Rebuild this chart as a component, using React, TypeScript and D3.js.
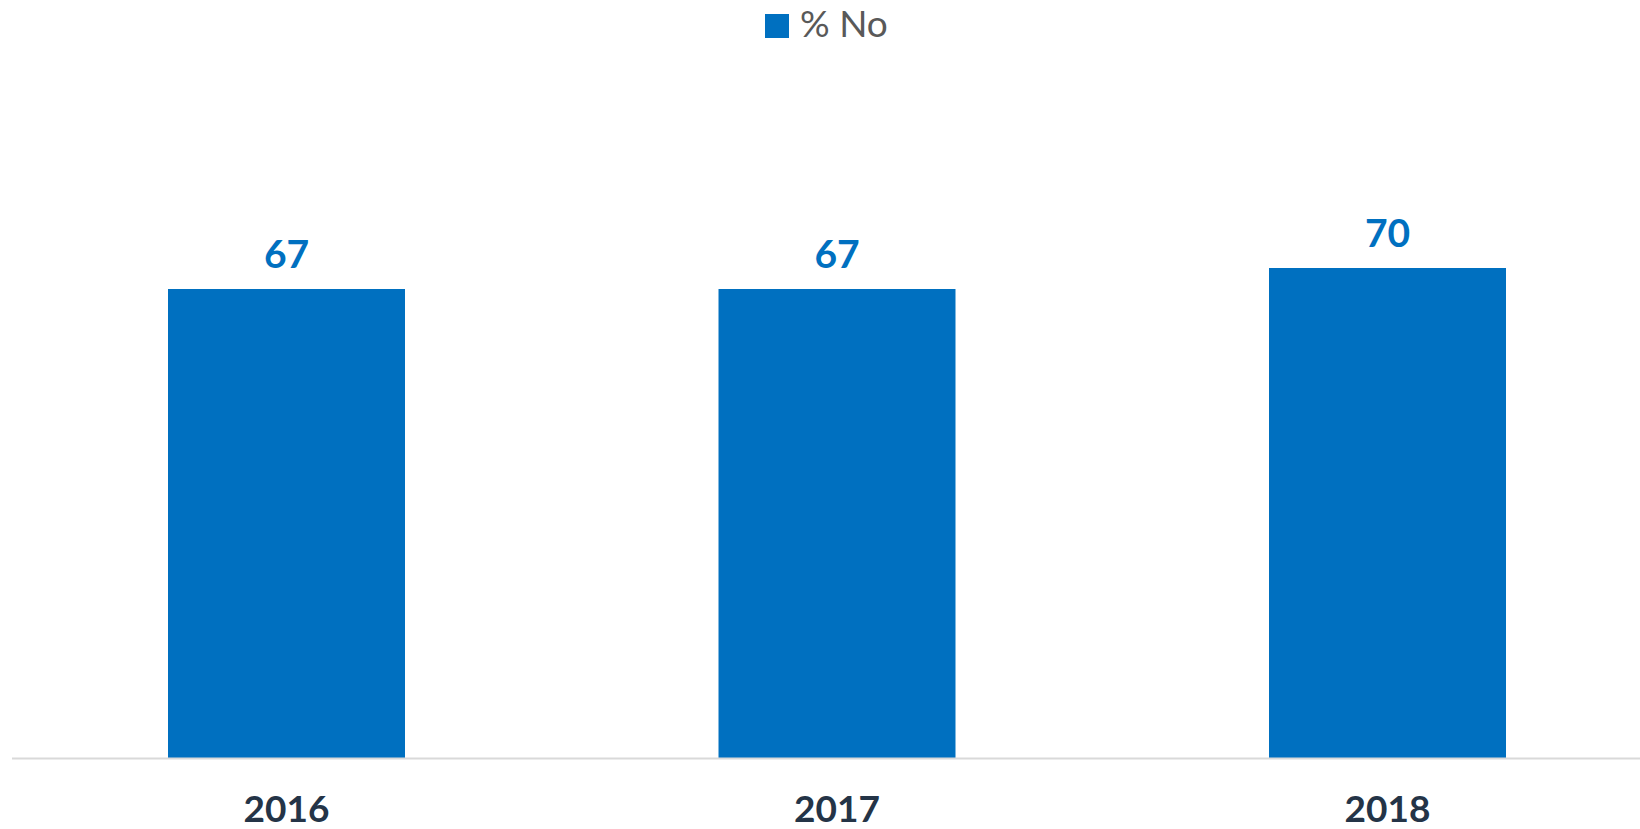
import React from "react";
import * as d3 from "d3";

const categories = ["2016", "2017", "2018"];
const values = [67, 67, 70];
const seriesName = "% No";

const W = 1640;
const H = 829;
const BAR = "#0070C0";

export default function App() {
  const x = d3
    .scaleBand<string>()
    .domain(categories)
    .range([11.25, 1662.75])
    .paddingInner(0.5695)
    .paddingOuter(0.28475);
  const y = d3.scaleLinear().domain([0, 80]).range([758, 198]);
  const font = "Lato, 'Open Sans', sans-serif";

  return (
    <svg
      width={W}
      height={H}
      style={{ position: "absolute", left: 0, top: 0, background: "#fff" }}
      fontFamily={font}
    >
      <g>
        <rect x={765} y={14} width={24} height={24} fill={BAR} />
        <text x={800} y={37} fontSize={37} fill="#595959">
          {seriesName}
        </text>
      </g>
      {categories.map((c, i) => (
        <g key={c}>
          <rect
            x={x(c)}
            y={y(values[i])}
            width={x.bandwidth()}
            height={y(0) - y(values[i])}
            fill={BAR}
          />
          <text
            x={(x(c) as number) + x.bandwidth() / 2}
            y={y(values[i]) - 21}
            textAnchor="middle"
            fontSize={39}
            fontWeight={700}
            fill={BAR}
          >
            {values[i]}
          </text>
          <text
            x={(x(c) as number) + x.bandwidth() / 2}
            y={822}
            textAnchor="middle"
            fontSize={37}
            fontWeight={700}
            fill="#243447"
          >
            {c}
          </text>
        </g>
      ))}
      <line x1={12} x2={W} y1={758.5} y2={758.5} stroke="#d9d9d9" strokeWidth={2} />
    </svg>
  );
}
